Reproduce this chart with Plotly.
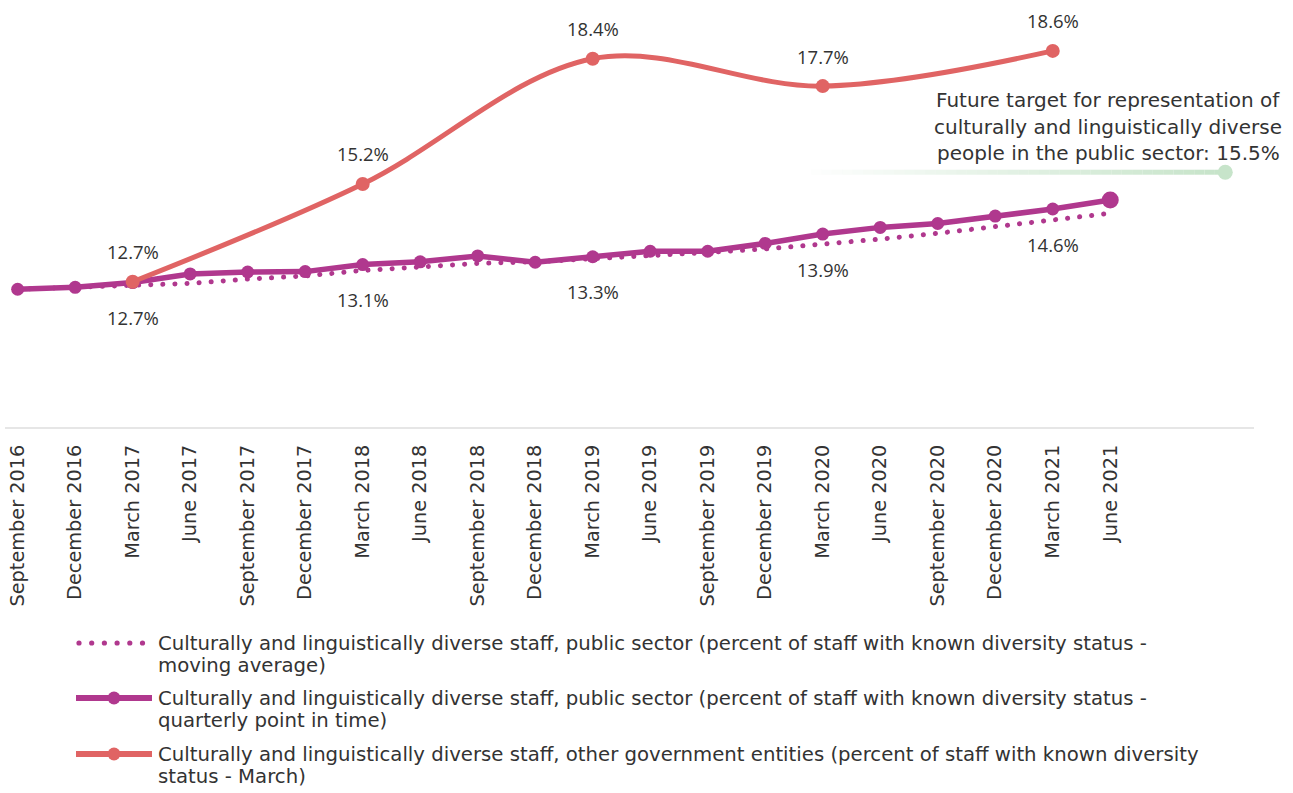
import plotly.graph_objects as go

# ---- data -------------------------------------------------------------
quarters = [
    "September 2016", "December 2016", "March 2017", "June 2017",
    "September 2017", "December 2017", "March 2018", "June 2018",
    "September 2018", "December 2018", "March 2019", "June 2019",
    "September 2019", "December 2019", "March 2020", "June 2020",
    "September 2020", "December 2020", "March 2021", "June 2021",
]

# public sector, quarterly point in time (%)
public_quarterly = [12.51, 12.56, 12.68, 12.90, 12.95, 12.96, 13.14, 13.21,
                    13.36, 13.20, 13.34, 13.48, 13.48, 13.68, 13.92, 14.09,
                    14.19, 14.38, 14.56, 14.79]

# public sector, moving average (%)
public_moving_avg = [12.51, 12.55, 12.60, 12.66, 12.77, 12.85, 12.99, 13.07,
                     13.17, 13.21, 13.28, 13.36, 13.45, 13.54, 13.65, 13.79,
                     13.94, 14.12, 14.29, 14.45]

# other government entities, March each year (%)
other_gov_quarters = ["March 2017", "March 2018", "March 2019", "March 2020", "March 2021"]
other_gov_values = [12.7, 15.2, 18.4, 17.7, 18.6]

# quarters whose public-sector value is labelled
labelled_quarters = ["March 2017", "March 2018", "March 2019", "March 2020", "March 2021"]

target_value = 15.5
target_lines = [
    "Future target for representation of",
    "culturally and linguistically diverse",
    f"people in the public sector: {target_value:.1f}%",
]

legend_lines = [
    ["Culturally and linguistically diverse staff, public sector (percent of staff with known diversity status -",
     "moving average)"],
    ["Culturally and linguistically diverse staff, public sector (percent of staff with known diversity status -",
     "quarterly point in time)"],
    ["Culturally and linguistically diverse staff, other government entities (percent of staff with known diversity",
     "status - March)"],
]

# ---- styling ----------------------------------------------------------
PURPLE = "#B0388E"
RED = "#E06464"
GREEN = "#C7E4CA"
TEXT = "#333333"
FONT = "DejaVu Sans"
NUM_FONT = "Open Sans"

W, H = 1293, 793
L, R, T, B = 5, 39, 0, 366
PLOT_W = W - L - R
PLOT_H = H - T - B

x_idx = list(range(len(quarters)))
pos = {q: i for i, q in enumerate(quarters)}
other_x = [pos[q] for q in other_gov_quarters]
target_x = len(quarters) + 1      # placed two slots past the last quarter
target_fade_from = 13.8           # where the target line fades in


def px_x(p):
    """pixel column -> paper x"""
    return (p - L) / PLOT_W


def px_y(p):
    """pixel row -> paper y"""
    return (T + PLOT_H - p) / PLOT_H


fig = go.Figure()

fig.add_trace(go.Scatter(
    x=x_idx, y=public_moving_avg, mode="lines",
    line=dict(color=PURPLE, width=5, dash="dot"),
    hoverinfo="skip", showlegend=False,
))

sizes = [13] * (len(quarters) - 1) + [17]
fig.add_trace(go.Scatter(
    x=x_idx, y=public_quarterly, mode="lines+markers",
    line=dict(color=PURPLE, width=5.5),
    marker=dict(color=PURPLE, size=sizes, opacity=1, line=dict(width=0)),
    showlegend=False,
))

fig.add_trace(go.Scatter(
    x=other_x, y=other_gov_values, mode="lines+markers",
    line=dict(color=RED, width=5, shape="spline", smoothing=1),
    marker=dict(color=RED, size=14, opacity=1, line=dict(width=0)),
    showlegend=False,
))

# target line: fades in from the left towards the target marker
n_seg = 40
for k in range(n_seg):
    x0 = target_fade_from + (target_x - target_fade_from) * k / n_seg
    x1 = target_fade_from + (target_x - target_fade_from) * (k + 1) / n_seg
    fig.add_shape(type="line", xref="x", yref="y",
                  x0=x0, x1=x1, y0=target_value, y1=target_value,
                  line=dict(color=GREEN, width=5),
                  opacity=(k + 1) / n_seg, layer="below")

fig.add_trace(go.Scatter(
    x=[target_x], y=[target_value], mode="markers",
    marker=dict(color=GREEN, size=15, opacity=1, line=dict(width=0)),
    showlegend=False,
))

annotations = []
for q, v in zip(other_gov_quarters, other_gov_values):
    annotations.append(dict(x=pos[q], y=v, xref="x", yref="y",
                            text=f"{v:.1f}%", showarrow=False, yshift=30,
                            font=dict(size=18.5, color=TEXT, family=NUM_FONT)))
for q in labelled_quarters:
    v = public_quarterly[pos[q]]
    annotations.append(dict(x=pos[q], y=v, xref="x", yref="y",
                            text=f"{v:.1f}%", showarrow=False, yshift=-35,
                            font=dict(size=18.5, color=TEXT, family=NUM_FONT)))

for row, line in zip([100, 126.5, 153], target_lines):
    annotations.append(dict(x=px_x(1108), y=px_y(row), xref="paper", yref="paper",
                            xanchor="center", yanchor="middle",
                            text=line, showarrow=False,
                            font=dict(size=20, color=TEXT, family=FONT)))

# ---- hand-built legend -------------------------------------------------
legend_rows = [643, 698, 754]
line_gap = 22.5
sym_x0, sym_x1, sym_mid = 76, 152, 114

for i, (row, lines) in enumerate(zip(legend_rows, legend_lines)):
    for j, txt in enumerate(lines):
        annotations.append(dict(x=px_x(156), y=px_y(row + j * line_gap),
                                xref="paper", yref="paper",
                                xanchor="left", yanchor="middle", align="left",
                                text=txt, showarrow=False,
                                font=dict(size=19.7, color=TEXT, family=FONT)))
    if i == 0:
        for k in range(6):
            cx = 79 + k * 12.7
            fig.add_shape(type="circle", xref="paper", yref="paper",
                          x0=px_x(cx - 2.6), x1=px_x(cx + 2.6),
                          y0=px_y(row + 2.6), y1=px_y(row - 2.6),
                          fillcolor=PURPLE, line=dict(width=0))
    else:
        col = PURPLE if i == 1 else RED
        fig.add_shape(type="line", xref="paper", yref="paper",
                      x0=px_x(sym_x0), x1=px_x(sym_x1),
                      y0=px_y(row), y1=px_y(row),
                      line=dict(color=col, width=6))
        fig.add_shape(type="circle", xref="paper", yref="paper",
                      x0=px_x(sym_mid - 6.5), x1=px_x(sym_mid + 6.5),
                      y0=px_y(row + 6.5), y1=px_y(row - 6.5),
                      fillcolor=col, line=dict(width=0))

fig.update_layout(
    width=W, height=H,
    margin=dict(l=L, r=R, t=T, b=B),
    paper_bgcolor="white", plot_bgcolor="white",
    font=dict(family=FONT, color=TEXT),
    showlegend=False,
    annotations=annotations,
    xaxis=dict(
        range=[-0.22, 21.5],
        tickvals=x_idx, ticktext=quarters, tickangle=-90,
        tickfont=dict(size=19.3, color=TEXT, family=FONT),
        showline=True, linecolor="#E6E6E6", linewidth=2,
        showgrid=False, zeroline=False, ticks="",
        ticklabelstandoff=8,
    ),
    yaxis=dict(range=[8.99, 19.9], visible=False, showgrid=False, zeroline=False),
)

# round dots for the moving-average line
post = """
var gd = document.getElementById('{plot_id}');
var tr = gd.querySelectorAll('.scatterlayer .trace')[0];
if (tr) {
  tr.querySelectorAll('path.js-line').forEach(function(p) {
    p.style.strokeLinecap = 'round';
    p.style.strokeDasharray = '0.1px,12px';
  });
}
"""

fig.write_html("out.html", post_script=post)
